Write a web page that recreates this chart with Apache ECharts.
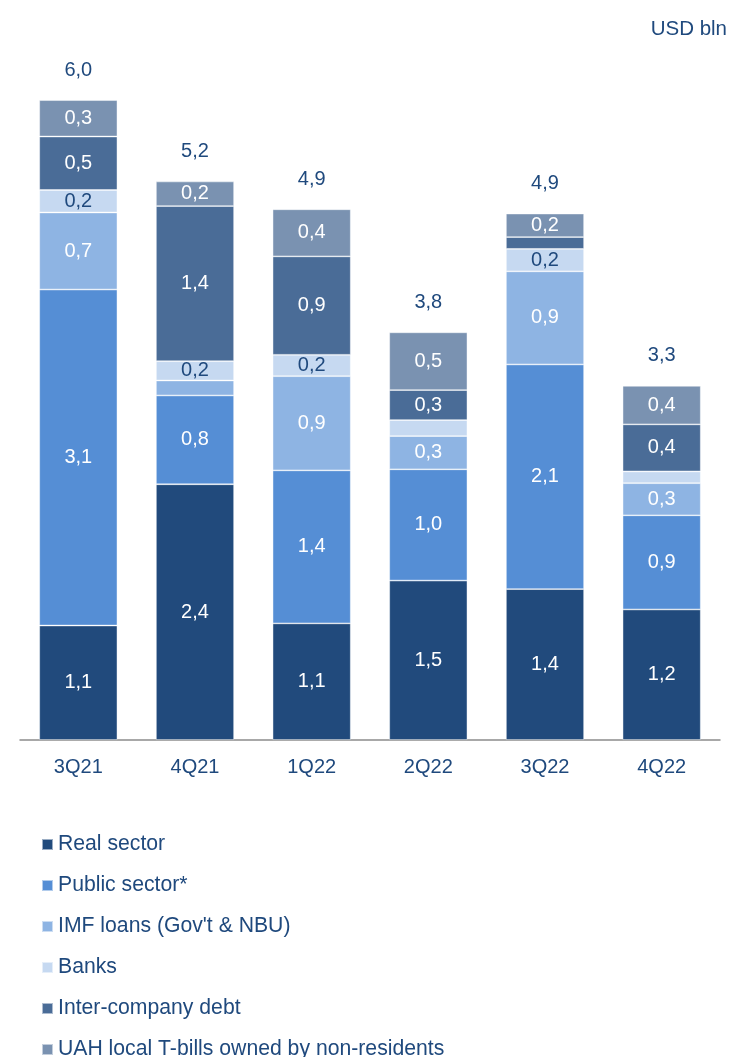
<!DOCTYPE html>
<html>
<head>
<meta charset="utf-8">
<script src="https://cdn.jsdelivr.net/npm/echarts@6/dist/echarts.min.js"></script>
<style>
  html, body { margin: 0; padding: 0; background: #fff; }
  #chart { width: 734px; height: 1057px; }
</style>
</head>
<body>
<div id="chart"></div>
<script>
// quarters
const categories = ["3Q21", "4Q21", "1Q22", "2Q22", "3Q22", "4Q22"];

// USD bln
const realSector = [1.07, 2.39, 1.09, 1.49, 1.41, 1.22];
const publicSector = [3.14, 0.83, 1.43, 1.04, 2.10, 0.88];
const imfLoans = [0.72, 0.14, 0.88, 0.31, 0.87, 0.30];
const banks = [0.21, 0.18, 0.20, 0.15, 0.21, 0.11];
const interCompany = [0.50, 1.45, 0.92, 0.28, 0.11, 0.44];
const uahTbills = [0.34, 0.23, 0.44, 0.54, 0.22, 0.36];
const totals = ["6,0", "5,2", "4,9", "3,8", "4,9", "3,3"];

const textColor = "#1F497D";
const fontFamily = "Liberation Sans, Arial, sans-serif";

let chart = echarts.init(document.getElementById("chart"));

function segment(name, data, color, labelColor) {
  return {
    name: name,
    type: "bar",
    stack: "debt",
    barWidth: "67%",
    data: data,
    itemStyle: {
      color: color,
      borderColor: "rgba(255,255,255,0.55)",
      borderWidth: 0.8
    },
    label: {
      show: true,
      position: "inside",
      color: labelColor,
      fontSize: 20,
      fontFamily: fontFamily,
      formatter: p => (p.value < 0.17 ? "" : p.value.toFixed(1).replace(".", ","))
    }
  };
}

let option = {
  animation: false,
  backgroundColor: "#fff",
  textStyle: { fontFamily: fontFamily },
  title: {
    text: "USD bln",
    right: 2,
    top: 14,
    textStyle: { color: textColor, fontSize: 20.5, fontWeight: "normal", fontFamily: fontFamily }
  },
  grid: { left: 20, right: 14, top: 44.5, bottom: 317 },
  legend: {
    orient: "vertical",
    left: 41,
    top: 834,
    height: 300,
    padding: 0,
    itemWidth: 11,
    itemHeight: 11,
    itemGap: 20,
    icon: "rect",
    data: ["Real sector", "Public sector*", "IMF loans (Gov't & NBU)", "Banks",
           "Inter-company debt", "UAH local T-bills owned by non-residents"],
    textStyle: { color: textColor, fontSize: 21.2, lineHeight: 20, fontFamily: fontFamily, padding: [0, 0, 0, 0] }
  },
  xAxis: {
    type: "category",
    data: categories,
    axisTick: { show: false },
    axisLine: { lineStyle: { color: "#8c8c8c", width: 1.5 } },
    axisLabel: { color: textColor, fontSize: 20, margin: 17, fontFamily: fontFamily }
  },
  yAxis: {
    type: "value",
    min: 0,
    max: 6.5,
    show: false,
    splitLine: { show: false }
  },
  series: [
    segment("Real sector", realSector, "#214A7C", "#ffffff"),
    segment("Public sector*", publicSector, "#558ED5", "#ffffff"),
    segment("IMF loans (Gov't & NBU)", imfLoans, "#8EB4E3", "#ffffff"),
    segment("Banks", banks, "#C6D9F1", textColor),
    segment("Inter-company debt", interCompany, "#4A6C97", "#ffffff"),
    segment("UAH local T-bills owned by non-residents", uahTbills, "#7A92B1", "#ffffff"),
    {
      name: "total",
      type: "bar",
      stack: "debt",
      data: categories.map(() => 0),
      itemStyle: { color: "transparent" },
      label: {
        show: true,
        position: "top",
        distance: 20,
        color: textColor,
        fontSize: 20,
        fontFamily: fontFamily,
        formatter: p => totals[p.dataIndex]
      }
    }
  ]
};

chart.setOption(option);
</script>
</body>
</html>
